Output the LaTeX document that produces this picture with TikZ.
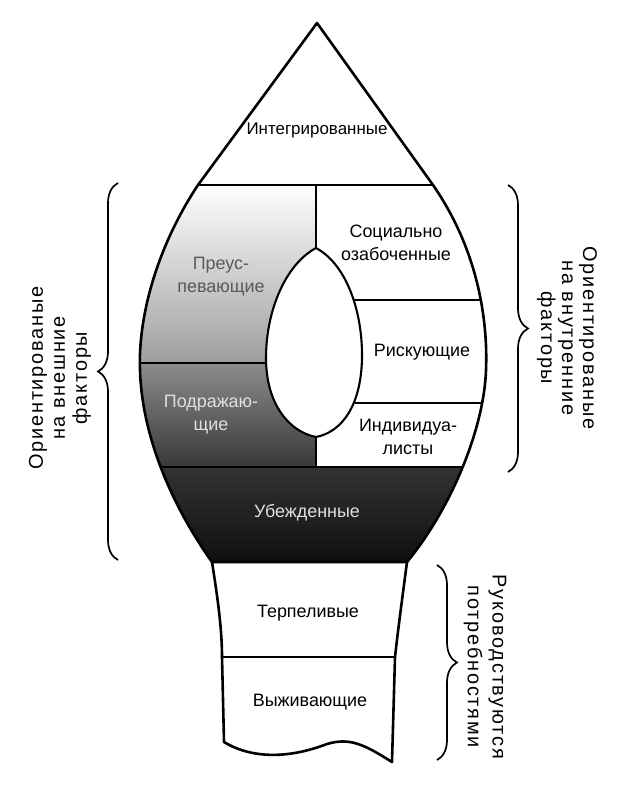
\documentclass[tikz,border=0pt]{standalone}
\usepackage{fontspec}
\setmainfont{Liberation Sans}
\usetikzlibrary{decorations.pathreplacing}
\begin{document}
\begin{tikzpicture}[x=1bp,y=-1bp,
  outl/.style={line width=2.6bp, line join=round},
  div/.style={line width=2.1bp},
  lbl/.style={font=\fontsize{18}{23}\selectfont, align=center, inner sep=0pt},
  side/.style={font=\fontsize{20}{21}\selectfont\addfontfeature{LetterSpace=9}, align=center, inner sep=0pt},
  brc/.style={decorate, decoration={brace, amplitude=20bp}, line width=1.7bp}
]
\useasboundingbox (0,0) rectangle (631,787);
\fill[white] (0,0) rectangle (631,787);
\def\outerpath{(317,23) -- (198,185) .. controls (155,250) and (138,320) .. (140,370) .. controls (142,440) and (175,510) .. (212,562) -- (407,562) .. controls (450,510) and (484,430) .. (486,370) .. controls (488,320) and (478,250) .. (433,185) -- cycle}
\def\leafpath{(316,248) .. controls (286,264) and (266,310) .. (266,358) .. controls (266,405) and (290,432) .. (316,437) .. controls (342,432) and (362,405) .. (362,355) .. controls (362,310) and (346,264) .. (316,248) -- cycle}
\begin{scope}
  \clip \outerpath;
  \shade[top color=white, bottom color=black!38] (100,185) rectangle (316,363);
  \shade[top color=black!45, bottom color=black!78] (100,363) rectangle (316,467);
  \shade[top color=black!80, bottom color=black!94] (100,467) rectangle (520,562);
  \draw[div] (100,363) -- (316,363);
  \draw[div] (316,300) -- (520,300);
  \draw[div] (316,403) -- (520,403);
  \draw[div] (100,467) -- (520,467);
  \draw[div] (100,185) -- (520,185);
  \draw[div] (316,185) -- (316,467);
\end{scope}
\filldraw[fill=white, div] \leafpath;
\draw[outl] \outerpath;
% stem
\draw[outl] (212,562) .. controls (218,600) and (222,630) .. (222,657) -- (224,742)
  .. controls (245,755) and (280,762) .. (327,744)
  .. controls (350,737) and (365,745) .. (392,762)
  -- (395,657) .. controls (398,630) and (402,600) .. (407,562);
\draw[div] (222,657) -- (395,657);
% labels
\node[lbl, font=\fontsize{17}{20}\selectfont] (integ) at (317,130) {Интегрированные};
\node[lbl, text=black!65] (preus) at (221,277) {Преус-\\певающие};
\node[lbl, text=black!12] (podr) at (211,415) {Подражаю-\\щие};
\node[lbl] (soc) at (396,243) {Социально\\озабоченные};
\node[lbl] (risk) at (422,352) {Рискующие};
\node[lbl] (indiv) at (408,437) {Индивидуа-\\листы};
\node[lbl, text=black!12] (ubezh) at (307,513) {Убежденные};
\node[lbl] (terp) at (308,613) {Терпеливые};
\node[lbl] (vyzh) at (310,702) {Выживающие};
% braces
\coordinate (lbA) at (118,560);
\coordinate (lbB) at (118,183);
\coordinate (rbA) at (508,185);
\coordinate (rbB) at (508,472);
\coordinate (bbA) at (437,565);
\coordinate (bbB) at (437,760);
\draw[brc] (lbA) -- (lbB);
\draw[brc] (rbA) -- (rbB);
\draw[brc] (bbA) -- (bbB);
\node[side, rotate=90, font=\fontsize{20}{22}\selectfont\addfontfeature{LetterSpace=9}] (lefttxt) at (60,378) {Ориентированые\\на внешние\\факторы};
\node[side, rotate=-90] (righttxt) at (567,338) {Ориентированые\\на внутренние\\факторы};
\node[side, rotate=-90, font=\fontsize{20}{25}\selectfont\addfontfeature{LetterSpace=9}] (bottxt) at (485,667) {Руководствуются\\потребностями};
\end{tikzpicture}
\end{document}
